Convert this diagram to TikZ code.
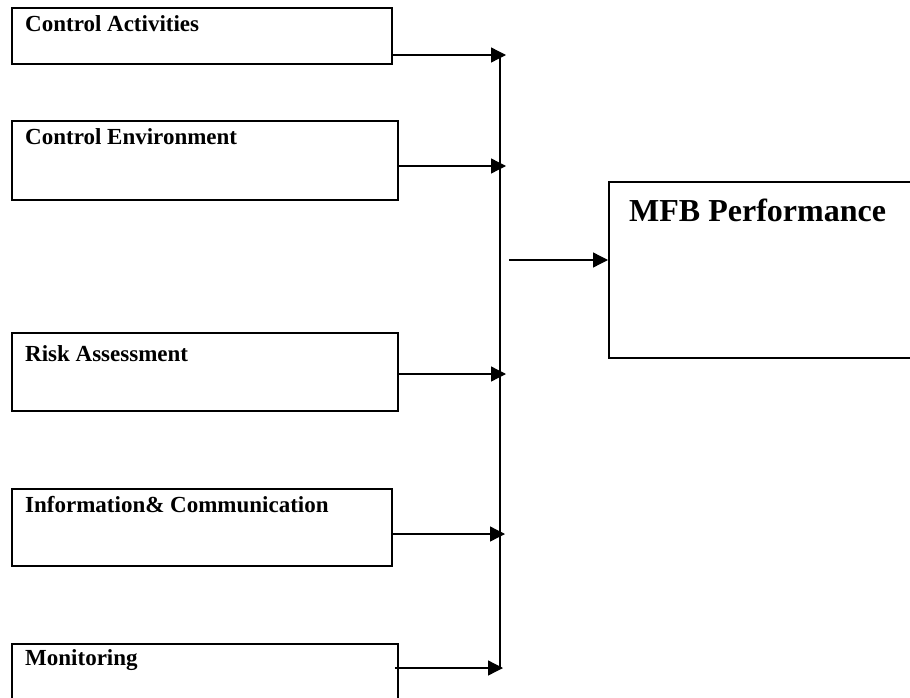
\documentclass[tikz,border=0pt]{standalone}
\usepackage{fontspec}
\setmainfont{Liberation Serif}
\usetikzlibrary{arrows.meta}

\tikzset{
	factor/.style={draw, line width=1.8pt, anchor=north west, inner sep=0pt, minimum width=#1},
	tag/.style={anchor=base west, inner sep=0pt, font=\fontsize{23}{27}\selectfont\bfseries},
	feed/.style={line width=1.3pt, -{Triangle[length=15pt,width=15pt]}}
}

\begin{document}
\begin{tikzpicture}[x=1pt, y=-1pt]
	\useasboundingbox (0,0) rectangle (910,698);
	\clip (0,0) rectangle (910,698);
	\node[factor=380pt, minimum height=56pt] (ca) at (11,7) {};
	\node[factor=386pt, minimum height=79pt] (ce) at (11,120) {};
	\node[factor=386pt, minimum height=78pt] (ra) at (11,332) {};
	\node[factor=380pt, minimum height=77pt] (ic) at (11,488) {};
	\node[factor=386pt, minimum height=80pt] (mo) at (11,643) {};
	\node[factor=330pt, minimum height=176pt] (mfb) at (608,181) {};
	\node[tag] (caT) at ([shift={(14,25)}]ca.north west) {Control Activities};
	\node[tag] (ceT) at ([shift={(14,25)}]ce.north west) {Control Environment};
	\node[tag] (raT) at ([shift={(14,29)}]ra.north west) {Risk Assessment};
	\node[tag] (icT) at ([shift={(14,24)}]ic.north west) {Information\& Communication};
	\node[tag] (moT) at ([shift={(14,22)}]mo.north west) {Monitoring};
	\node[tag, font=\fontsize{32}{38}\selectfont\bfseries] (mfbT) at ([shift={(21,40)}]mfb.north west) {MFB Performance};
	\coordinate (busA) at (500,55);
	\coordinate (busB) at (500,669);
	\coordinate (hub) at (509,260);
	\draw[line width=1.8pt] (busA)--(busB);
	\draw[feed] (ca.east |- 0,55)--(506,55);
	\draw[feed] (ce.east |- 0,166)--(506,166);
	\draw[feed] (ra.east |- 0,374)--(506,374);
	\draw[feed] ([xshift=-2pt]ic.east |- 0,534)--(505,534);
	\draw[feed] ([xshift=-4pt]mo.east |- 0,668)--(503,668);
	\draw[feed] (hub)--(mfb.west |- hub);
\end{tikzpicture}
\end{document}
